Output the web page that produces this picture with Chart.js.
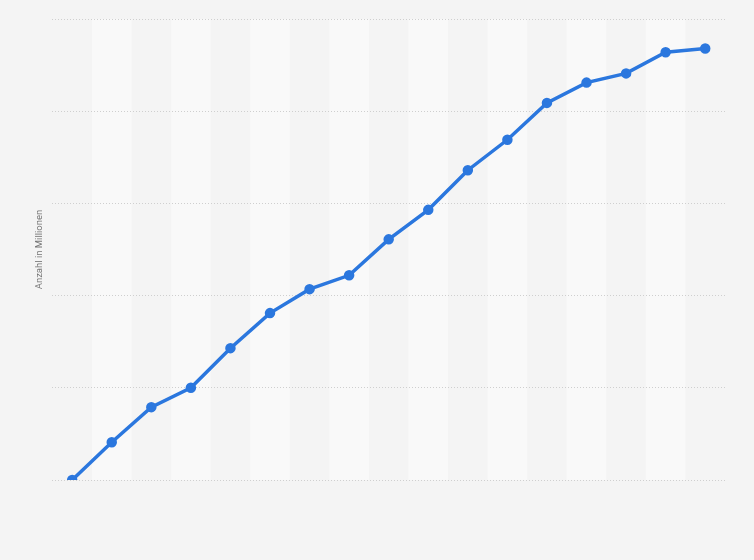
<!DOCTYPE html>
<html>
<head>
<meta charset="utf-8">
<script src="https://cdn.jsdelivr.net/npm/chart.js@4"></script>
<style>
  html, body { margin: 0; padding: 0; background: #f4f4f4; }
  #wrap { width: 754px; height: 560px; }
</style>
</head>
<body>
<div id="wrap"><canvas id="myChart"></canvas></div>
<script>
// categories (no labels shown in the picture)
var years = ['1','2','3','4','5','6','7','8','9','10','11','12','13','14','15','16','17'];
// values
var anzahl = [0, 0.41, 0.79, 1.0, 1.43, 1.81, 2.07, 2.22, 2.61, 2.93, 3.36, 3.69, 4.09, 4.31, 4.41, 4.64, 4.68];

// light stripes behind every other category, drawn before the grid
var stripes = {
  id: 'stripes',
  beforeDraw: function(chart) {
    var c = chart.ctx, a = chart.chartArea, x = chart.scales.x;
    c.save();
    c.fillStyle = '#f9f9f9';
    for (var i = 1; i < years.length; i += 2) {
      var l = x.getPixelForValue(i - 0.5), r = x.getPixelForValue(i + 0.5);
      c.fillRect(l, a.top, r - l, a.bottom - a.top);
    }
    c.restore();
  }
};

var ctx = document.getElementById("myChart");
var myChart = new Chart(ctx, {
  type: 'line',
  data: {
    labels: years,
    datasets: [{
      data: anzahl,
      borderColor: '#2b77de',
      backgroundColor: '#2b77de',
      borderWidth: 3.5,
      pointRadius: 3.5,
      pointHoverRadius: 3.5,
      tension: 0,
      fill: false
    }]
  },
  plugins: [stripes],
  options: {
    responsive: true,
    maintainAspectRatio: false,
    animation: false,
    layout: { padding: { left: 27, right: 29, top: 19, bottom: 72 } },
    plugins: { legend: { display: false }, tooltip: { enabled: false } },
    scales: {
      x: {
        offset: true,
        grid: { display: false },
        border: { display: false },
        ticks: { display: false }
      },
      y: {
        min: 0,
        max: 5,
        ticks: { display: false, stepSize: 1 },
        border: { display: false, dash: [1, 2] },
        grid: { color: '#cfcfcf', drawTicks: false, tickLength: 0 },
        title: {
          display: true,
          text: 'Anzahl in Millionen',
          color: '#777',
          font: { family: 'Roboto', size: 9.5 },
          padding: 7
        }
      }
    }
  }
});
</script>
</body>
</html>
